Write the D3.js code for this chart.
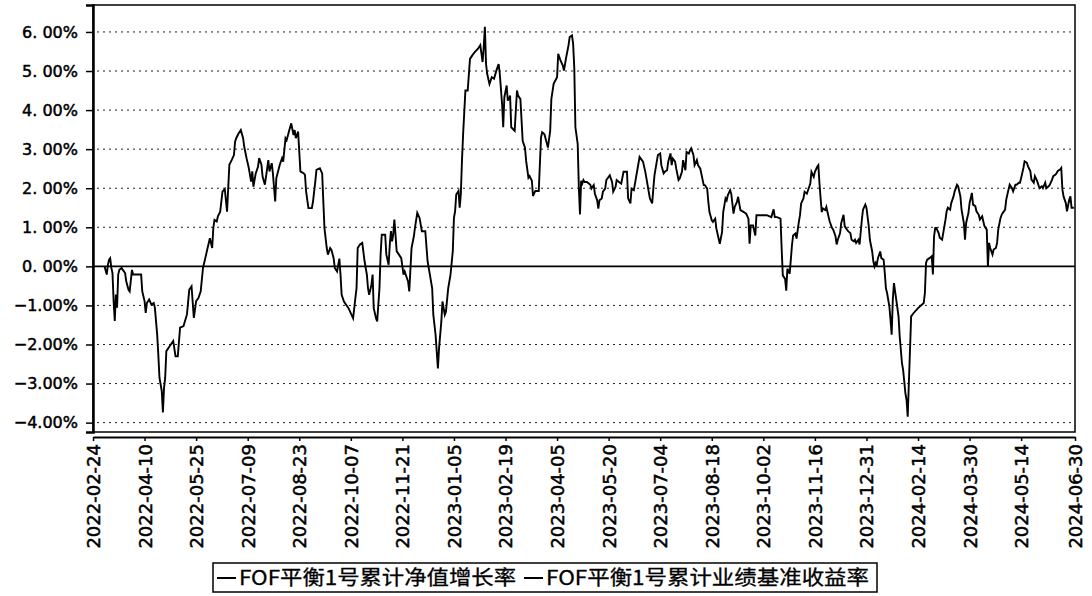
<!DOCTYPE html>
<html>
<head>
<meta charset="utf-8">
<script src="https://cdn.jsdelivr.net/npm/d3@7"></script>
<style>
  body { margin: 0; background: #fff; }
  #graph svg { display: block; }
</style>
</head>
<body>
<div id="graph"></div>
<script>
// axis ticks
const xTickDates = ["2022-02-24", "2022-04-10", "2022-05-25", "2022-07-09", "2022-08-23", "2022-10-07",
  "2022-11-21", "2023-01-05", "2023-02-19", "2023-04-05", "2023-05-20", "2023-07-04", "2023-08-18",
  "2023-10-02", "2023-11-16", "2023-12-31", "2024-02-14", "2024-03-30", "2024-05-14", "2024-06-30"];
const yTicks = [-4, -3, -2, -1, 0, 1, 2, 3, 4, 5, 6];
const yTickLabels = ["\u22124.00%", "\u22123.00%", "\u22122.00%", "\u22121.00%", "0. 00%", "1. 00%",
  "2. 00%", "3. 00%", "4. 00%", "5. 00%", "6. 00%"];

const seriesNames = ["FOF平衡1号累计净值增长率", "FOF平衡1号累计业绩基准收益率"];

// cumulative NAV growth (%)
const navDates = [
  "2022-03-06","2022-03-08","2022-03-09","2022-03-10","2022-03-11","2022-03-12","2022-03-13","2022-03-14","2022-03-15","2022-03-16","2022-03-17","2022-03-18","2022-03-19","2022-03-21","2022-03-22","2022-03-24","2022-03-25","2022-03-27","2022-03-28","2022-03-30","2022-03-31",
  "2022-04-07","2022-04-08","2022-04-10","2022-04-11","2022-04-12","2022-04-14","2022-04-16","2022-04-18","2022-04-19","2022-04-21","2022-04-22","2022-04-23","2022-04-25","2022-04-26","2022-04-27","2022-04-28","2022-04-29",
  "2022-05-02","2022-05-05","2022-05-07","2022-05-09","2022-05-11","2022-05-14","2022-05-17","2022-05-19","2022-05-21","2022-05-23","2022-05-25","2022-05-27","2022-05-29","2022-05-31",
  "2022-06-02","2022-06-04","2022-06-06","2022-06-08","2022-06-09","2022-06-10","2022-06-12","2022-06-13","2022-06-15","2022-06-17","2022-06-19","2022-06-21","2022-06-23","2022-06-25","2022-06-27","2022-06-28","2022-06-29",
  "2022-07-01","2022-07-03","2022-07-05","2022-07-06","2022-07-08","2022-07-10","2022-07-12","2022-07-13","2022-07-14","2022-07-16","2022-07-18","2022-07-19","2022-07-21","2022-07-22","2022-07-24","2022-07-26","2022-07-27","2022-07-28","2022-07-30","2022-07-31",
  "2022-08-02","2022-08-03","2022-08-06","2022-08-08","2022-08-09","2022-08-11","2022-08-12","2022-08-14","2022-08-16","2022-08-18","2022-08-19","2022-08-20","2022-08-22","2022-08-24","2022-08-27","2022-08-28","2022-08-29","2022-08-31",
  "2022-09-03","2022-09-04","2022-09-06","2022-09-07","2022-09-10","2022-09-12","2022-09-13","2022-09-14","2022-09-16","2022-09-17","2022-09-19","2022-09-20","2022-09-22","2022-09-23","2022-09-25","2022-09-27","2022-09-28","2022-09-29",
  "2022-10-01","2022-10-05","2022-10-09","2022-10-11","2022-10-12","2022-10-13","2022-10-15","2022-10-17","2022-10-19","2022-10-21","2022-10-22","2022-10-23","2022-10-25","2022-10-26","2022-10-27","2022-10-29","2022-10-30",
  "2022-11-01","2022-11-02","2022-11-03","2022-11-06","2022-11-07","2022-11-09","2022-11-10","2022-11-11","2022-11-12","2022-11-13","2022-11-14","2022-11-15","2022-11-16","2022-11-18","2022-11-20","2022-11-22","2022-11-23","2022-11-26","2022-11-27","2022-11-29",
  "2022-12-01","2022-12-02","2022-12-04","2022-12-06","2022-12-08","2022-12-11","2022-12-13","2022-12-15","2022-12-17","2022-12-18","2022-12-20","2022-12-22","2022-12-23","2022-12-25","2022-12-26","2022-12-28","2022-12-29","2022-12-31",
  "2023-01-02","2023-01-04","2023-01-05","2023-01-06","2023-01-07","2023-01-09","2023-01-10","2023-01-11","2023-01-12","2023-01-13","2023-01-15","2023-01-17","2023-01-19","2023-01-21","2023-01-23","2023-01-26","2023-01-28","2023-01-30","2023-01-31",
  "2023-02-01","2023-02-02","2023-02-03","2023-02-05","2023-02-07","2023-02-09","2023-02-11","2023-02-13","2023-02-14","2023-02-16","2023-02-17","2023-02-18","2023-02-20","2023-02-21","2023-02-23","2023-02-24","2023-02-27",
  "2023-03-01","2023-03-02","2023-03-04","2023-03-06","2023-03-08","2023-03-09","2023-03-11","2023-03-12","2023-03-14","2023-03-15","2023-03-17","2023-03-19","2023-03-20","2023-03-22","2023-03-23","2023-03-25","2023-03-28","2023-03-30","2023-03-31",
  "2023-04-02","2023-04-05","2023-04-06","2023-04-08","2023-04-10","2023-04-11","2023-04-13","2023-04-15","2023-04-16","2023-04-18","2023-04-19","2023-04-20","2023-04-21","2023-04-23","2023-04-24","2023-04-25","2023-04-26","2023-04-27","2023-04-28","2023-04-29",
  "2023-05-01","2023-05-04","2023-05-05","2023-05-07","2023-05-08","2023-05-10","2023-05-11","2023-05-12","2023-05-14","2023-05-15","2023-05-17","2023-05-18","2023-05-20","2023-05-21","2023-05-23","2023-05-24","2023-05-26","2023-05-27","2023-05-29","2023-05-31",
  "2023-06-02","2023-06-04","2023-06-05","2023-06-06","2023-06-08","2023-06-09","2023-06-11","2023-06-13","2023-06-14","2023-06-16","2023-06-18","2023-06-19","2023-06-21","2023-06-22","2023-06-24","2023-06-25","2023-06-27","2023-06-28","2023-06-29",
  "2023-07-01","2023-07-02","2023-07-04","2023-07-05","2023-07-07","2023-07-08","2023-07-10","2023-07-11","2023-07-13","2023-07-14","2023-07-15","2023-07-17","2023-07-18","2023-07-20","2023-07-21","2023-07-23","2023-07-24","2023-07-26","2023-07-27","2023-07-29","2023-07-30","2023-07-31",
  "2023-08-02","2023-08-03","2023-08-05","2023-08-06","2023-08-08","2023-08-11","2023-08-12","2023-08-14","2023-08-15","2023-08-16","2023-08-18","2023-08-19","2023-08-21","2023-08-22","2023-08-25","2023-08-27","2023-08-28","2023-08-30","2023-08-31",
  "2023-09-01","2023-09-03","2023-09-04","2023-09-06","2023-09-07","2023-09-09","2023-09-10","2023-09-12","2023-09-15","2023-09-17","2023-09-19","2023-09-20","2023-09-21","2023-09-23","2023-09-25","2023-09-26",
  "2023-10-01","2023-10-05","2023-10-09","2023-10-11","2023-10-12","2023-10-14","2023-10-17","2023-10-18","2023-10-19","2023-10-21","2023-10-22","2023-10-23","2023-10-25","2023-10-27","2023-10-28","2023-10-30","2023-10-31",
  "2023-11-02","2023-11-03","2023-11-04","2023-11-06","2023-11-07","2023-11-09","2023-11-10","2023-11-12","2023-11-13","2023-11-15","2023-11-16","2023-11-18","2023-11-19","2023-11-20","2023-11-21","2023-11-22","2023-11-23","2023-11-25","2023-11-26","2023-11-28","2023-11-29",
  "2023-12-01","2023-12-02","2023-12-04","2023-12-05","2023-12-06","2023-12-08","2023-12-09","2023-12-11","2023-12-12","2023-12-14","2023-12-15","2023-12-17","2023-12-18","2023-12-20","2023-12-21","2023-12-22","2023-12-24","2023-12-25","2023-12-27","2023-12-28","2023-12-30","2023-12-31",
  "2024-01-02","2024-01-03","2024-01-05","2024-01-06","2024-01-07","2024-01-08","2024-01-09","2024-01-10","2024-01-12","2024-01-13","2024-01-15","2024-01-16","2024-01-17","2024-01-18","2024-01-20","2024-01-21","2024-01-22","2024-01-23","2024-01-24","2024-01-25","2024-01-26","2024-01-28","2024-01-29","2024-01-31",
  "2024-02-01","2024-02-03","2024-02-04","2024-02-05","2024-02-06","2024-02-07","2024-02-08","2024-02-10","2024-02-14","2024-02-19","2024-02-20","2024-02-21","2024-02-22","2024-02-24","2024-02-26","2024-02-27","2024-02-28","2024-02-29",
  "2024-03-01","2024-03-03","2024-03-04","2024-03-06","2024-03-07","2024-03-09","2024-03-10","2024-03-11","2024-03-13","2024-03-14","2024-03-16","2024-03-17","2024-03-19","2024-03-20","2024-03-22","2024-03-23","2024-03-25","2024-03-26","2024-03-27","2024-03-29","2024-03-30",
  "2024-04-01","2024-04-02","2024-04-04","2024-04-05","2024-04-07","2024-04-08","2024-04-10","2024-04-11","2024-04-12","2024-04-14","2024-04-15","2024-04-16","2024-04-17","2024-04-19","2024-04-20","2024-04-22","2024-04-23","2024-04-24","2024-04-26","2024-04-27","2024-04-28","2024-04-30",
  "2024-05-01","2024-05-03","2024-05-04","2024-05-06","2024-05-07","2024-05-09","2024-05-10","2024-05-12","2024-05-13","2024-05-14","2024-05-16","2024-05-17","2024-05-19","2024-05-20","2024-05-22","2024-05-23","2024-05-25","2024-05-26","2024-05-28","2024-05-29","2024-05-30",
  "2024-06-01","2024-06-02","2024-06-04","2024-06-05","2024-06-07","2024-06-08","2024-06-10","2024-06-11","2024-06-13","2024-06-14","2024-06-15","2024-06-17","2024-06-18","2024-06-19","2024-06-20","2024-06-22","2024-06-23","2024-06-25","2024-06-26","2024-06-27","2024-06-29"
];
const navValues = [
  0,-0.21,0.04,0.17,0.21,-0.04,-0.17,-0.89,-1.40,-0.72,-1.06,-0.21,-0.09,-0.04,-0.09,-0.17,-0.38,-0.60,-0.64,-0.09,-0.21,
  -0.21,-0.64,-0.89,-1.19,-0.94,-0.85,-0.98,-0.94,-1.06,-1.74,-2.26,-2.85,-3.19,-3.74,-3.11,-2.85,-2.17,
  -2.04,-1.91,-2.30,-2.30,-1.57,-1.53,-1.23,-0.60,-0.51,-1.32,-0.89,-0.81,-0.64,-0.04,
  0.21,0.47,0.72,0.47,0.98,1.19,1.15,1.28,1.40,1.91,1.98,1.40,2.60,2.72,2.85,3.19,3.28,
  3.40,3.49,3.28,3.06,2.77,2.51,2.17,2.43,2.04,2.38,2.55,2.77,2.60,2.30,2.09,2.51,2.72,2.43,2.64,2.38,
  1.66,2.26,2.60,2.77,2.68,3.28,3.23,3.45,3.66,3.36,3.49,3.28,3.45,2.43,2.38,2.34,1.91,1.49,
  1.49,1.66,2.17,2.47,2.51,2.38,1.66,0.98,0.47,0.30,0.47,0.43,0.21,-0.04,-0.13,0.20,-0.21,-0.73,
  -0.90,-1.07,-1.33,-0.81,-0.56,0.47,0.56,0.60,0.13,-0.21,-0.56,-0.73,-0.47,-0.21,-1.07,-1.33,-1.41,
  -0.56,0.30,0.81,0.81,0.30,0.04,0.56,0.90,0.64,0.81,1.20,0.81,0.39,0.30,0.21,-0.21,-0.13,-0.39,-0.64,0.47,
  0.77,0.99,1.37,1.24,0.90,0.90,0.13,-0.21,-0.56,-1.24,-1.76,-2.61,-2.10,-1.41,-0.90,-1.24,-1.16,-0.56,
  -0.21,0.39,1.24,1.41,1.84,1.93,1.50,1.84,2.70,3.38,4.50,4.50,5.31,5.40,5.48,5.57,5.66,5.23,5.61,
  6.13,5.18,4.93,4.67,4.84,4.80,5.01,5.18,4.93,4.16,3.56,4.33,4.63,4.24,4.37,3.56,3.47,
  4.50,4.37,4.28,3.21,3.04,2.70,2.27,2.31,2.19,1.80,1.93,1.93,1.93,3.30,3.43,3.38,3.04,3.47,4.28,
  4.67,4.84,5.44,5.27,5.14,5.01,5.36,5.66,5.87,5.91,5.70,5.10,3.56,3.13,2.01,1.33,2.19,2.12,2.21,2.16,
  2.16,2.09,1.99,2.08,1.86,1.69,1.48,1.69,1.74,1.91,1.99,2.21,2.29,2.33,2.16,1.91,2.03,2.21,2.16,2.12,
  2.42,2.42,2.42,1.74,1.61,1.99,1.95,2.29,2.46,2.80,2.72,2.68,2.42,2.25,1.91,1.74,1.61,1.99,2.33,
  2.68,2.85,2.89,2.59,2.38,2.42,2.46,2.68,2.89,2.59,2.76,2.68,2.50,2.21,2.25,2.42,2.72,2.46,2.93,2.89,2.97,3.02,
  2.85,2.59,2.72,2.59,2.50,2.08,2.08,1.99,1.65,1.39,1.18,1.14,1.22,0.97,0.58,0.88,1.39,1.74,1.69,
  1.82,1.95,1.86,1.35,1.52,1.65,1.78,1.44,1.39,1.35,1.22,0.58,1.05,1.05,0.79,1.31,
  1.31,1.31,1.26,1.46,1.26,1.26,1.22,0.45,-0.23,-0.32,-0.62,-0.06,-0.19,0.54,0.79,0.84,0.71,
  1.14,1.31,1.61,1.74,1.91,1.86,1.95,2.12,2.42,2.29,2.42,2.55,2.59,2.12,1.74,1.39,1.48,1.44,1.52,1.26,1.14,
  0.98,0.94,0.77,0.56,0.68,0.85,1.11,1.32,1.03,0.94,0.90,0.85,0.68,0.64,0.68,0.60,0.68,0.56,1.20,1.45,1.58,1.50,
  1.03,0.68,0.38,0.13,0,0.09,0.04,0.21,0.38,0.21,0.17,-0.17,-0.56,-0.68,-1.03,-1.37,-1.75,-0.85,-0.43,-0.64,-0.85,-1.28,-1.79,-2.48,
  -2.65,-3.25,-3.42,-3.85,-2.99,-2.14,-1.28,-1.20,-1.07,-0.94,-0.68,0.09,0.17,0.21,0.26,-0.21,0.77,0.98,
  0.98,0.85,0.73,0.68,0.85,1.20,1.41,1.50,1.45,1.62,1.79,1.92,2.09,2.05,1.79,1.45,1.11,0.68,1.11,1.37,1.62,
  1.88,1.58,1.54,1.41,1.32,1.20,1.28,1.15,1.03,0.94,0,0.60,0.47,0.30,0.43,0.47,0.60,0.94,1.24,1.32,1.37,1.45,
  1.71,1.97,2.09,2.00,1.92,2.09,2.09,2.14,2.14,2.26,2.52,2.69,2.65,2.56,2.44,2.22,2.14,2.31,2.18,2.09,2.00,
  2.05,2.00,2.14,2.00,2.05,2.09,2.22,2.31,2.35,2.39,2.44,2.48,2.52,1.97,1.79,1.62,1.41,1.71,1.79,1.50,1.50
];

// benchmark (%), drawn flat on the zero level in the picture
const benchDates = ["2022-02-24", "2024-06-30"];
const benchValues = [0, 0];

if (navDates.length !== navValues.length) console.log("length mismatch", navDates.length, navValues.length);

// set the dimensions and margins of the graph
const margin = {top: 5, right: 17, bottom: 164, left: 93},
  width = 1092 - margin.left - margin.right,
  height = 596 - margin.top - margin.bottom;

const svg = d3.select("#graph")
.append("svg")
  .attr("width", 1092)
  .attr("height", 596)
.append("g")
  .attr("transform", `translate(${margin.left}, ${margin.top})`);

const parse = d3.timeParse("%Y-%m-%d");

const x = d3.scaleTime()
  .domain([parse(xTickDates[0]), parse(xTickDates[xTickDates.length - 1])])
  .range([0, width]);

const y = d3.scaleLinear()
  .domain([-4.24, 6.69])
  .range([height, 0]);

// dotted grid lines
svg.append("g")
  .selectAll("line")
  .data(yTicks.filter(d => d !== 0))
  .join("line")
    .attr("x1", 4)
    .attr("x2", width - 3)
    .attr("y1", d => y(d))
    .attr("y2", d => y(d))
    .style("stroke", "#222")
    .style("stroke-width", 1)
    .style("stroke-dasharray", "2,4");

// plot frame
svg.append("rect")
  .attr("width", width)
  .attr("height", height)
  .style("fill", "none")
  .style("stroke", "#000")
  .style("stroke-width", 1.5);

// y axis
const yAxis = svg.append("g")
  .call(d3.axisLeft(y)
    .tickValues(yTicks)
    .tickSize(7)
    .tickPadding(8)
    .tickFormat((d, i) => yTickLabels[i]));
yAxis.select(".domain").style("stroke", "#000").style("stroke-width", 2.5);
yAxis.selectAll(".tick line").style("stroke", "#000").style("stroke-width", 1.5);
yAxis.selectAll("text")
  .style("font-family", "DejaVu Sans")
  .style("font-size", "16px")
  .style("fill", "#000")
  .style("stroke", "#000")
  .style("stroke-width", 0.5);

// x axis, a little below the frame
const xAxis = svg.append("g")
  .attr("transform", `translate(0, ${height + 5})`)
  .call(d3.axisBottom(x)
    .tickValues(xTickDates.map(parse))
    .tickSize(4)
    .tickSizeOuter(0)
    .tickFormat((d, i) => xTickDates[i]));
xAxis.select(".domain").style("stroke", "#000").style("stroke-width", 2);
xAxis.selectAll(".tick line").style("stroke", "#000").style("stroke-width", 1.5);
xAxis.selectAll("text")
  .attr("transform", "rotate(-90)")
  .attr("x", -7)
  .attr("y", 0)
  .attr("dy", "0.36em")
  .style("text-anchor", "end")
  .style("font-family", "DejaVu Sans")
  .style("font-size", "18px")
  .style("fill", "#000")
  .style("stroke", "#000")
  .style("stroke-width", 0.5);

// lines
const line = d3.line()
  .x(d => x(d[0]))
  .y(d => y(d[1]));

svg.append("path")
  .datum(benchDates.map((d, i) => [parse(d), benchValues[i]]))
  .attr("d", line)
  .style("fill", "none")
  .style("stroke", "#000")
  .style("stroke-width", 1.8);

svg.append("path")
  .datum(navDates.map((d, i) => [parse(d), navValues[i]]))
  .attr("d", line)
  .style("fill", "none")
  .style("stroke", "#000")
  .style("stroke-width", 1.9)
  .style("stroke-linejoin", "miter");

// legend
const legend = d3.select("svg").append("g")
  .attr("transform", "translate(213, 563)");

legend.append("rect")
  .attr("width", 664)
  .attr("height", 29)
  .style("fill", "#fff")
  .style("stroke", "#000")
  .style("stroke-width", 1.5);

const legendItems = [
  {name: seriesNames[0], x: 4, textWidth: 277},
  {name: seriesNames[1], x: 311, textWidth: 323}
];

const item = legend.selectAll(".item")
  .data(legendItems)
  .join("g")
    .attr("class", "item")
    .attr("transform", d => `translate(${d.x}, 0)`);

item.append("line")
  .attr("x1", 0)
  .attr("x2", 19)
  .attr("y1", 15)
  .attr("y2", 15)
  .style("stroke", "#000")
  .style("stroke-width", 2);

item.append("text")
  .attr("x", 22)
  .attr("y", 22)
  .attr("textLength", d => d.textWidth)
  .attr("lengthAdjust", "spacingAndGlyphs")
  .style("font-family", "'Noto Sans CJK SC'")
  .style("font-size", "20px")
  .style("fill", "#000")
  .style("stroke", "#000")
  .style("stroke-width", 0.3)
  .text(d => d.name);
</script>
</body>
</html>
